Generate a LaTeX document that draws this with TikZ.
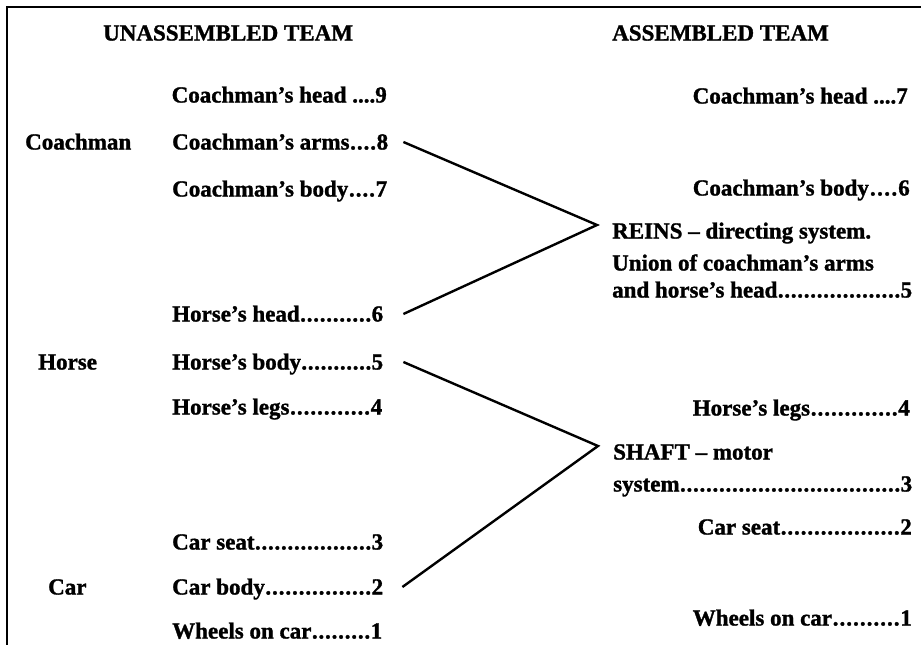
\documentclass[tikz,border=0pt]{standalone}
\usepackage{fontspec}
\setmainfont[BoldFeatures={FakeBold=1.3}]{Liberation Serif}
\newcommand\dl[3]{\hbox to #1pt{#2\xleaders\hbox to 6.4pt{\hss.\hss}\hfill#3}}
\begin{document}
\begin{tikzpicture}[x=1pt,y=-1pt,
  every node/.style={font=\fontsize{23}{26}\selectfont\bfseries, inner sep=0pt, text height=15pt, text depth=0pt},
  lft/.style={anchor=west}, rgt/.style={anchor=east},
  link/.style={line width=2.4pt, line join=miter},
  frame/.style={line width=2pt}]
\useasboundingbox (0,0) rectangle (921,645);
\draw[frame] (7,645) -- (7,7) -- (921,7);

% headings
\node[lft] (t1) at (103,33) {UNASSEMBLED TEAM};
\node[lft] (t2) at (612,33) {ASSEMBLED TEAM};

% group labels
\node[lft] (gc) at (25,142) {Coachman};
\node[lft] (gh) at (38,362) {Horse};
\node[lft] (gcar) at (48,587) {Car};

% unassembled parts
\node[rgt] (chd) at (387,95) {Coachman’s head ....9};
\node[lft] (car) at (172,142) {\dl{216}{Coachman’s arms}{8}};
\node[lft] (cbd) at (172,189) {\dl{215}{Coachman’s body}{7}};
\node[lft] (hhd) at (172,314) {\dl{211}{Horse’s head}{6}};
\node[lft] (hbd) at (172,362) {\dl{211}{Horse’s body}{5}};
\node[lft] (hlg) at (172,407) {\dl{210}{Horse’s legs}{4}};
\node[lft] (cst) at (172,542) {\dl{211}{Car seat}{3}};
\node[lft] (cby) at (172,587) {\dl{211}{Car body}{2}};
\node[lft] (cwh) at (172,631) {\dl{210}{Wheels on car}{1}};

% assembled parts
\node[rgt] (rch) at (908,96) {Coachman’s head ....7};
\node[rgt] (rcb) at (910,188) {\dl{217}{Coachman’s body}{6}};
\node[lft] (reins1) at (612,231) {REINS – directing system.};
\node[lft] (reins2) at (612,263) {Union of coachman’s arms};
\node[lft] (reins3) at (612,290) {\dl{300}{and horse’s head}{5}};
\node[rgt] (rhl) at (910,408) {\dl{217}{Horse’s legs}{4}};
\node[lft] (shaft1) at (613,452) {SHAFT – motor};
\node[lft] (shaft2) at (613,484) {\dl{299}{system}{3}};
\node[rgt] (rcs) at (912,527) {\dl{214}{Car seat}{2}};
\node[rgt] (rwh) at (912,618) {\dl{219}{Wheels on car}{1}};

% connectors
\coordinate (vr) at (597,225);
\coordinate (vs) at (598,446);
\draw[link] ([xshift=15pt]car.east) -- (vr) -- ([xshift=20pt]hhd.east);
\draw[link] ([xshift=20pt]hbd.east) -- (vs) -- ([xshift=19pt]cby.east);
\end{tikzpicture}
\end{document}
